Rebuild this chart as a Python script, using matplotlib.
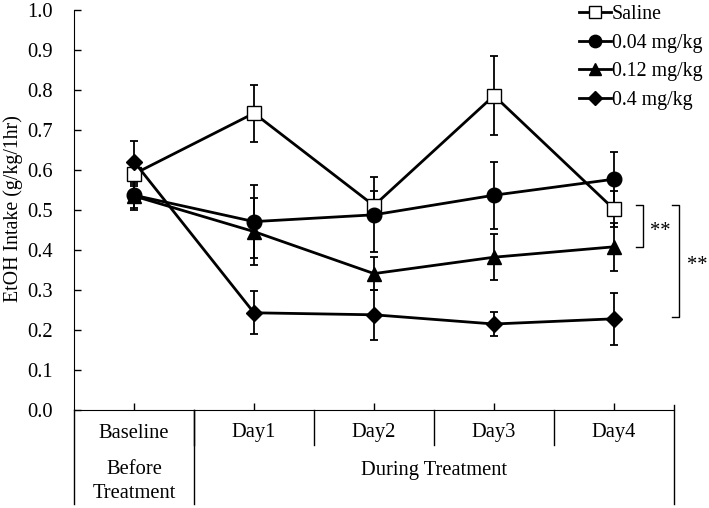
import matplotlib
matplotlib.use("Agg")
import matplotlib.pyplot as plt
import matplotlib.transforms as mtransforms

# Data
days = ["Baseline", "Day1", "Day2", "Day3", "Day4"]
groups = ["Saline", "0.04 mg/kg", "0.12 mg/kg", "0.4 mg/kg"]

saline = [0.590, 0.742, 0.511, 0.786, 0.502]
saline_err = [0.030, 0.071, 0.037, 0.098, 0.045]

dose_004 = [0.537, 0.471, 0.488, 0.537, 0.577]
dose_004_err = [0.037, 0.092, 0.094, 0.084, 0.069]

dose_012 = [0.535, 0.446, 0.341, 0.382, 0.408]
dose_012_err = [0.030, 0.083, 0.042, 0.057, 0.060]

dose_04 = [0.621, 0.243, 0.238, 0.215, 0.228]
dose_04_err = [0.052, 0.054, 0.062, 0.030, 0.065]

yticks = [0.0, 0.1, 0.2, 0.3, 0.4, 0.5, 0.6, 0.7, 0.8, 0.9, 1.0]

FS = 14.8
plt.rcParams["font.family"] = ["Liberation Serif", "DejaVu Serif"]
plt.rcParams["font.size"] = FS

fig = plt.figure(figsize=(7.09, 5.08), dpi=100)
ax = fig.add_axes([74 / 709, 1 - 410 / 508, 600 / 709, 400 / 508])

x = list(range(len(days)))
series = [
    (saline, saline_err, "s", "white", 10),
    (dose_004, dose_004_err, "o", "black", 10.5),
    (dose_012, dose_012_err, "^", "black", 10.5),
    (dose_04, dose_04_err, "D", "black", 8.5),
]

for (vals, errs, mk, fc, ms), name in zip(series, groups):
    ax.errorbar(x, vals, yerr=errs, fmt="none", ecolor="black",
                elinewidth=1.3, capsize=3, capthick=1.3, zorder=2)
    ax.plot(x, vals, color="black", lw=2, marker=mk, markersize=ms,
            markerfacecolor=fc, markeredgecolor="black", markeredgewidth=1,
            label=name, zorder=3)

ax.set_xlim(-0.5, 4.5)
ax.set_ylim(0, 1.0)
ax.set_yticks(yticks)
ax.set_yticklabels([f"{t:.1f}" for t in yticks])
ax.set_xticks(x)
ax.set_xticklabels([])
ax.tick_params(direction="in", length=5, width=1, labelsize=FS)
ax.tick_params(axis="y", pad=15)
ax.spines["top"].set_visible(False)
ax.spines["right"].set_visible(False)
fig.text(13 / 709, 1 - 209 / 508, "EtOH Intake (g/kg/1hr)", rotation=90,
         ha="center", va="center", fontsize=14.3)

# category table below the axis
trans = mtransforms.blended_transform_factory(ax.transData, ax.transAxes)
for b in [0.5, 1.5, 2.5, 3.5]:
    ax.plot([b, b], [0, -0.0875], color="black", lw=1, transform=trans, clip_on=False)
for b in [-0.5, 0.5, 4.5]:
    ax.plot([b, b], [0.012 if b == 4.5 else 0, -0.235], color="black", lw=1,
            transform=trans, clip_on=False)
for i, d in enumerate(days):
    ax.text(i, -0.0575, d, ha="center", va="center", transform=trans)
ax.text(0, -0.15, "Before", ha="center", va="center", transform=trans)
ax.text(0, -0.2075, "Treatment", ha="center", va="center", transform=trans)
ax.text(2.5, -0.15, "During Treatment", ha="center", va="center", transform=trans)

# significance brackets
ax.plot([4.183, 4.244, 4.244, 4.183], [saline[4] + 0.0105, saline[4] + 0.0105,
        dose_012[4], dose_012[4]], color="black", lw=1, clip_on=False)
ax.text(4.385, 0.447, "**", ha="center", va="center", fontsize=FS)
ax.plot([4.48, 4.54, 4.54, 4.48], [saline[4] + 0.0105, saline[4] + 0.0105,
        dose_04[4] + 0.004, dose_04[4] + 0.004], color="black", lw=1, clip_on=False)
ax.text(4.69, 0.362, "**", ha="center", va="center", fontsize=FS)

ax.legend(loc="upper left", bbox_to_anchor=(567 / 709, 1.013), bbox_transform=fig.transFigure,
          frameon=False, handlelength=1.6, handletextpad=0.05, labelspacing=0.48,
          borderpad=0.1, fontsize=14.3, markerscale=0.85)

fig.savefig("out.png", dpi=100)
